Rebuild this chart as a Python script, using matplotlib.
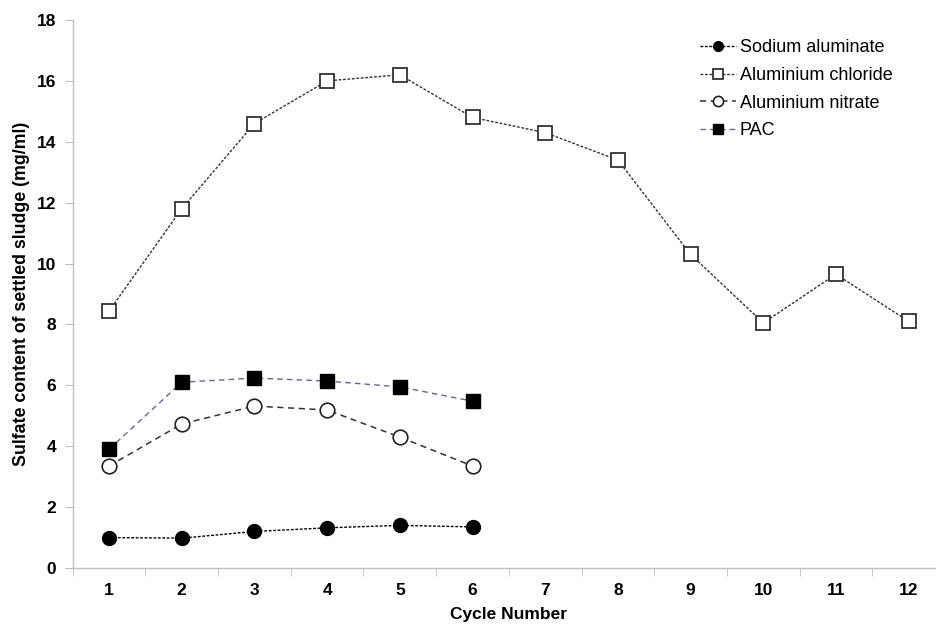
import numpy as np
from matplotlib import pyplot as plt

plt.rcParams['font.family'] = ['Liberation Sans', 'DejaVu Sans']

cycles = np.arange(1, 13)
sodium_aluminate = [1.00, 0.98, 1.20, 1.32, 1.40, 1.35]
aluminium_chloride = [8.44, 11.8, 14.6, 16.0, 16.2, 14.8, 14.3, 13.4, 10.3, 8.05, 9.65, 8.1]
aluminium_nitrate = [3.35, 4.73, 5.32, 5.19, 4.30, 3.35]
pac = [3.90, 6.10, 6.24, 6.14, 5.95, 5.48]

W, H = 937, 628
fig = plt.figure(figsize=(W / 100, H / 100), dpi=100)
ax = fig.add_axes([72.7 / W, 60 / H, (945 - 72.7) / W, 548 / H])

ax.plot(cycles[:6], sodium_aluminate, color='black', lw=1, ls=(0, (2, 1.2)),
        marker='o', ms=10, mfc='black', mec='black', label='Sodium aluminate')
ax.plot(cycles, aluminium_chloride, color='#333333', lw=1, ls=(0, (2, 1.2)),
        marker='s', ms=10.5, mfc='white', mec='#333333', mew=1.3, label='Aluminium chloride')
ax.plot(cycles[:6], aluminium_nitrate, color='#333333', lw=1.1, ls=(0, (4, 3)),
        marker='o', ms=10.5, mfc='white', mec='#222222', mew=1.2, label='Aluminium nitrate')
ax.plot(cycles[:6], pac, color='#6e6290', lw=1, ls=(0, (4, 3)),
        marker='s', ms=10.5, mfc='black', mec='black', label='PAC')

ax.set_xlim(0.5, 12.5)
ax.set_ylim(0, 18)
ax.set_yticks(np.arange(0, 19, 2))
ax.set_xticks(cycles)
ax.set_xticks(np.arange(0.5, 13, 1), minor=True)

for s in ['top', 'right']:
    ax.spines[s].set_visible(False)
for s in ['left', 'bottom']:
    ax.spines[s].set_color('#bfbfbf')
    ax.spines[s].set_linewidth(1)

ax.tick_params(axis='y', length=6, color='#bfbfbf', labelsize=12.5, pad=6)
ax.tick_params(axis='x', which='major', length=0, labelsize=12.5, pad=11)
ax.tick_params(axis='x', which='minor', length=6, color='#bfbfbf')
for lab in ax.get_xticklabels() + ax.get_yticklabels():
    lab.set_fontweight('bold')

ax.set_xlabel('Cycle Number', fontsize=12.5, fontweight='bold', labelpad=6.5)
ax.set_ylabel('Sulfate content of settled sludge (mg/ml)', fontsize=12.8,
              fontweight='bold', labelpad=5)

leg = ax.legend(loc='upper left', bbox_to_anchor=(0.7004, 0.995), frameon=False,
                fontsize=13, handlelength=2.0, handletextpad=0.2, labelspacing=0.6,
                markerscale=0.7)

fig.savefig('out.png', dpi=100)
